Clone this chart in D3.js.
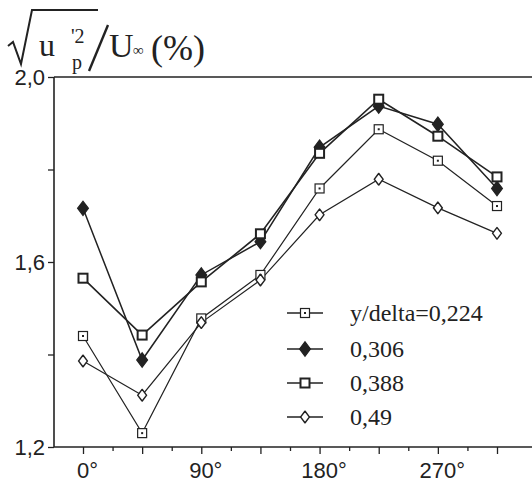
<!DOCTYPE html>
<html>
<head>
<meta charset="utf-8">
<script src="https://cdn.jsdelivr.net/npm/d3@7/dist/d3.min.js"></script>
<style>
  body { margin: 0; background: #fff; }
  svg { display: block; }
</style>
</head>
<body>
<svg id="chart" width="532" height="494"></svg>
<script>
// angles (deg) and rms values in %
const angles = [0, 45, 90, 135, 180, 225, 270, 315];
const s0224 = [1.440, 1.230, 1.478, 1.572, 1.759, 1.887, 1.819, 1.721];
const s0306 = [1.716, 1.388, 1.572, 1.644, 1.848, 1.937, 1.898, 1.759];
const s0388 = [1.565, 1.442, 1.557, 1.661, 1.835, 1.952, 1.872, 1.784];
const s049  = [1.386, 1.312, 1.469, 1.561, 1.702, 1.779, 1.717, 1.662];
const seriesNames = ["y/delta=0,224", "0,306", "0,388", "0,49"];
const yTickLabels = ["1,2", "1,6", "2,0"];
const xTickLabels = ["0°", "90°", "180°", "270°"];

var ink = "#222";
var svg = d3.select("#chart");

var pLeft = 54, pRight = 532, pTop = 77, pBottom = 447;

var x = d3.scaleLinear().domain([0, 315]).range([83, 497]);
var y = d3.scaleLinear().domain([1.2, 2.0]).range([pBottom, pTop]);

// frame: top line and axes
svg.append("line")
  .attr("x1", pLeft).attr("x2", pRight)
  .attr("y1", pTop).attr("y2", pTop)
  .attr("stroke", ink).attr("stroke-width", 1.4);

var yAxis = d3.axisLeft(y)
  .tickValues([1.2, 1.4, 1.6, 1.8, 2.0])
  .tickSize(6)
  .tickFormat(function(d) {
    var i = [1.2, 1.6, 2.0].indexOf(d);
    return i >= 0 ? yTickLabels[i] : "";
  });
var gy = svg.append("g")
  .attr("transform", "translate(" + pLeft + ",0)")
  .call(yAxis);

var xAxis = d3.axisBottom(x)
  .tickValues(d3.range(0, 316, 22.5))
  .tickSize(7)
  .tickFormat(function(d) {
    var i = [0, 90, 180, 270].indexOf(d);
    return i >= 0 ? xTickLabels[i] : "";
  });
var gx = svg.append("g")
  .attr("transform", "translate(0," + pBottom + ")")
  .call(xAxis);

[gx, gy].forEach(function(g) {
  g.select(".domain").remove();
  g.selectAll("line").attr("stroke", ink).attr("stroke-width", 1.3);
  g.selectAll("text")
    .attr("fill", ink)
    .style("font-family", "Liberation Sans, Arial, sans-serif")
    .style("font-size", "22px");
});
gx.selectAll(".tick line").attr("y2", function(d) { return d % 45 === 0 ? 7 : 4; });
gx.selectAll("text").attr("dy", "0.85em").attr("dx", 4).attr("y", 12);
gy.selectAll("text").attr("x", -9).attr("dy", "0.35em");

svg.append("line")
  .attr("x1", pLeft).attr("x2", pLeft)
  .attr("y1", pTop).attr("y2", pBottom)
  .attr("stroke", ink).attr("stroke-width", 1.6);
svg.append("line")
  .attr("x1", pLeft).attr("x2", pRight)
  .attr("y1", pBottom).attr("y2", pBottom)
  .attr("stroke", ink).attr("stroke-width", 1.6);

// series
var series = [
  { name: seriesNames[0], values: s0224, shape: "square", fill: "#fff", dot: true, w: 1.2 },
  { name: seriesNames[1], values: s0306, shape: "diamond", fill: ink, dot: false, w: 1.5 },
  { name: seriesNames[2], values: s0388, shape: "square", fill: "#fff", dot: false, w: 1.6, ms: 2 },
  { name: seriesNames[3], values: s049, shape: "odiamond", fill: "#fff", dot: false, w: 1.2 }
];

var line = d3.line()
  .x(function(d) { return x(d[0]); })
  .y(function(d) { return y(d[1]); });

function marker(g, s, cx, cy) {
  if (s.shape === "square") {
    g.append("rect")
      .attr("x", cx - 4.5).attr("y", cy - 4.5)
      .attr("width", 9).attr("height", 9)
      .attr("fill", s.fill).attr("stroke", ink)
      .attr("stroke-width", s.ms || 1.2);
    if (s.dot) {
      g.append("rect").attr("x", cx - 1).attr("y", cy - 1)
        .attr("width", 2).attr("height", 2).attr("fill", ink);
    }
  } else if (s.shape === "diamond") {
    g.append("path")
      .attr("d", d3.symbol().type(d3.symbolDiamond).size(60)())
      .attr("transform", "translate(" + cx + "," + cy + ") scale(1.3,1)")
      .attr("fill", ink).attr("stroke", ink).attr("stroke-width", 1);
  } else {
    g.append("path")
      .attr("d", d3.symbol().type(d3.symbolDiamond).size(40)())
      .attr("transform", "translate(" + cx + "," + cy + ") scale(1.3,1)")
      .attr("fill", "#fff").attr("stroke", ink).attr("stroke-width", 1.2)
      .attr("stroke-linejoin", "round");
  }
}

series.forEach(function(s) {
  var pts = angles.map(function(a, i) { return [a, s.values[i]]; });
  svg.append("path")
    .datum(pts)
    .attr("d", line)
    .attr("fill", "none")
    .attr("stroke", ink)
    .attr("stroke-width", s.w);
});
series.forEach(function(s) {
  var g = svg.append("g");
  angles.forEach(function(a, i) {
    marker(g, s, x(a), y(s.values[i]));
  });
});

// legend
var legY = [313, 349, 383, 417];
series.forEach(function(s, i) {
  var g = svg.append("g");
  g.append("line")
    .attr("x1", 287).attr("x2", 323)
    .attr("y1", legY[i]).attr("y2", legY[i])
    .attr("stroke", ink).attr("stroke-width", 1.5);
  marker(g, s, 305, legY[i]);
  g.append("text")
    .attr("x", 350).attr("y", legY[i] + 8)
    .attr("fill", ink)
    .style("font-family", "Liberation Serif, Times New Roman, serif")
    .style("font-size", "24px")
    .text(s.name);
});

// title: sqrt(u_p'^2 bar) / U_inf (%)
var t = svg.append("g").attr("fill", ink)
  .style("font-family", "Liberation Serif, Times New Roman, serif");
t.append("path")
  .attr("d", "M8,46 L13,42 L21,64 L32,10 L98,10")
  .attr("fill", "none").attr("stroke", ink)
  .attr("stroke-width", 2).attr("stroke-linejoin", "miter");
t.append("text").attr("x", 39).attr("y", 56).style("font-size", "32px").text("u");
t.append("text").attr("x", 72).attr("y", 69).style("font-size", "20px").text("p");
t.append("text").attr("x", 71).attr("y", 43).style("font-size", "20px").text("'2");
t.append("line")
  .attr("x1", 89).attr("y1", 71).attr("x2", 108).attr("y2", 25)
  .attr("stroke", ink).attr("stroke-width", 2.4);
t.append("text").attr("x", 109).attr("y", 57).style("font-size", "34px").text("U");
t.append("text").attr("x", 133).attr("y", 55).style("font-size", "15px").text("∞");
t.append("text").attr("x", 151).attr("y", 60).style("font-size", "36px").text("(%)");
</script>
</body>
</html>
